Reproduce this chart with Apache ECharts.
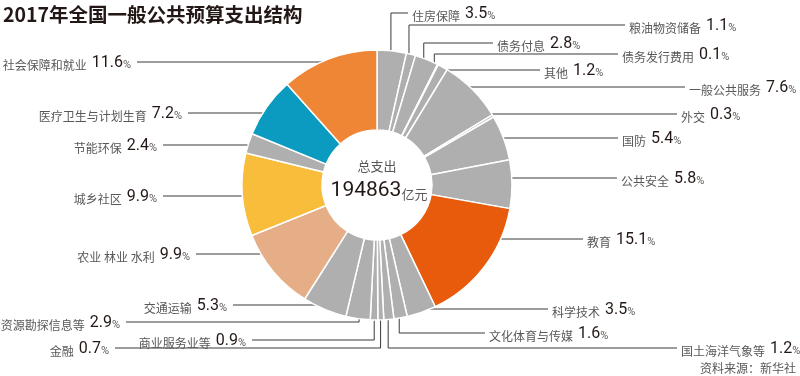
<!DOCTYPE html>
<html>
<head>
<meta charset="utf-8">
<script src="https://cdn.jsdelivr.net/npm/echarts@6/dist/echarts.min.js"></script>
<style>
html, body { margin: 0; padding: 0; background: #fff; }
#main { width: 800px; height: 376px; }
</style>
</head>
<body>
<div id="main"></div>
<script>
// 2017年全国一般公共预算支出结构 (%)，从正上方顺时针
const names = ['住房保障', '粮油物资储备', '债务付息', '债务发行费用', '其他', '一般公共服务', '外交', '国防',
    '公共安全', '教育', '科学技术', '文化体育与传媒', '国土海洋气象等', '金融', '商业服务业等',
    '资源勘探信息等', '交通运输', '农业 林业 水利', '城乡社区', '节能环保', '医疗卫生与计划生育', '社会保障和就业'];
const shares = [3.5, 1.1, 2.8, 0.1, 1.2, 7.6, 0.3, 5.4, 5.8, 15.1, 3.5, 1.6, 1.2, 0.7, 0.9, 2.9, 5.3, 9.9, 9.9, 2.4, 7.2, 11.6];
const totalSpend = '194863';

// layout of the labels: y of each leader line and where it stops
const labelY = [13, 25, 43, 54, 70, 87, 114, 138, 178, 239, 309, 333, 348, 348, 340, 322, 305, 254, 196, 145, 113, 62];
const lineEnd = [408, 625, 493, 618, 540, 685, 677, 618, 617, 583, 548, 485, 677, 115, 252, 126, 233, 196, 163, 163, 188, 137];

const gray = '#AFAFAF';
const colorMap = {
    '教育': '#E85A0C',
    '农业 林业 水利': '#E5AE87',
    '城乡社区': '#F8BE3B',
    '医疗卫生与计划生育': '#0B9AC0',
    '社会保障和就业': '#EE8636'
};

const cx = 377, cy = 185, rIn = 55, rOut = 135;
const cnFont = '"Noto Sans CJK SC", sans-serif';
const numFont = 'Roboto, sans-serif';
const textGray = '#595757';

const sum = shares.reduce((a, b) => a + b, 0);
const spans = [];
let acc = 0;
shares.forEach(v => {
    const a0 = acc / sum * 360;
    acc += v;
    spans.push([a0, acc / sum * 360]);
});

function pt(deg, r) {
    const t = deg * Math.PI / 180;
    return [cx + r * Math.sin(t), cy - r * Math.cos(t)];
}

// leader line: straight if the label's row crosses the slice, otherwise an elbow
function leader(i) {
    const a0 = spans[i][0], a1 = spans[i][1];
    const mid = (a0 + a1) / 2;
    const side = lineEnd[i] > cx ? 1 : -1;
    const Y = labelY[i], dy = Y - cy;
    const rs = [];
    for (let r = rIn + 12; r <= rOut - 4; r++) rs.push(r);
    rs.sort((p, q) => Math.abs(p - 116) - Math.abs(q - 116));
    for (const r of rs) {
        if (r <= Math.abs(dy)) continue;
        const dx = side * Math.sqrt(r * r - dy * dy);
        let th = Math.atan2(dx, -dy) * 180 / Math.PI;
        if (th < 0) th += 360;
        if (th > a0 + 0.3 && th < a1 - 0.3) return [[cx + dx, Y], [lineEnd[i], Y]];
    }
    const a = pt(mid, 127);
    return [a, [a[0], Y], [lineEnd[i], Y]];
}

const chart = echarts.init(document.getElementById('main'));

chart.setOption({
    animation: false,
    backgroundColor: '#fff',
    title: {
        text: '2017年全国一般公共预算支出结构',
        left: 0,
        top: 0,
        padding: [5, 3],
        textStyle: { fontFamily: cnFont, fontSize: 19.5, fontWeight: 'bold', color: '#231815' }
    },
    graphic: [
        {
            type: 'text', x: cx, y: 166,
            style: { text: '总支出', align: 'center', verticalAlign: 'middle', font: '13px ' + cnFont, fill: textGray }
        },
        {
            type: 'text', x: cx + 2, y: 190,
            style: {
                text: '{v|' + totalSpend + '}{u|亿元}', align: 'center', verticalAlign: 'middle',
                rich: {
                    v: { fontFamily: numFont, fontSize: 21, fill: '#231815', verticalAlign: 'bottom', lineHeight: 22 },
                    u: { fontFamily: cnFont, fontSize: 13, fill: textGray, verticalAlign: 'bottom', lineHeight: 18 }
                }
            }
        },
        {
            type: 'text', right: 4, bottom: 2,
            style: { text: '资料来源：新华社', font: '12px ' + cnFont, fill: textGray }
        }
    ],
    series: [{
        type: 'pie',
        center: [cx, cy],
        radius: [rIn, rOut],
        startAngle: 90,
        clockwise: true,
        avoidLabelOverlap: false,
        silent: true,
        itemStyle: { borderColor: '#fff', borderWidth: 1.5 },
        data: names.map((n, i) => ({ name: n, value: shares[i], itemStyle: { color: colorMap[n] || gray } })),
        label: {
            show: true,
            position: 'outside',
            formatter: p => '{n|' + p.name + '}{v|' + shares[p.dataIndex].toFixed(1) + '}{p|%}',
            rich: {
                n: { fontFamily: cnFont, fontSize: 12, color: textGray, padding: [0, 5, 0, 0], verticalAlign: 'bottom', lineHeight: 16 },
                v: { fontFamily: numFont, fontSize: 16, color: '#231815', verticalAlign: 'bottom', lineHeight: 18 },
                p: { fontFamily: numFont, fontSize: 11, color: textGray, verticalAlign: 'bottom', lineHeight: 15 }
            }
        },
        labelLine: { show: true, smooth: false, lineStyle: { color: '#3E3A39', width: 1 } },
        labelLayout: function (params) {
            const i = params.dataIndex;
            const right = lineEnd[i] > cx;
            return {
                x: right ? lineEnd[i] + 4 : lineEnd[i] - 6,
                y: labelY[i],
                align: right ? 'left' : 'right',
                verticalAlign: 'middle',
                labelLinePoints: leader(i)
            };
        }
    }]
});
</script>
</body>
</html>
